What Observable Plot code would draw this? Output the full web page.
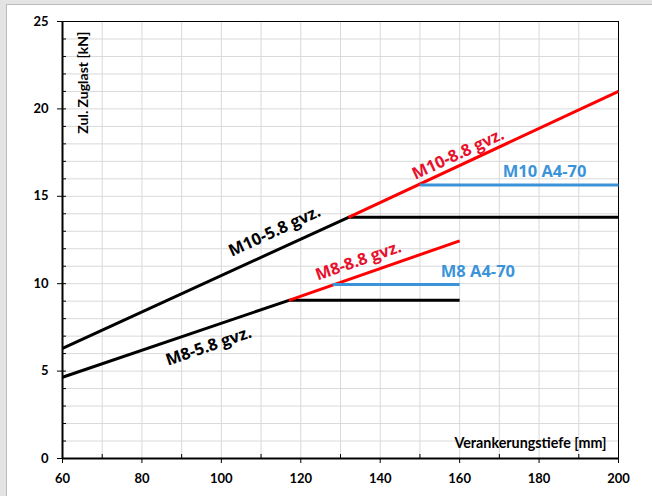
<!DOCTYPE html>
<html>
<head>
<meta charset="utf-8">
<script src="https://cdn.jsdelivr.net/npm/d3@7"></script>
<script src="https://cdn.jsdelivr.net/npm/@observablehq/plot@0.6"></script>
<style>
  html, body { margin: 0; padding: 0; background: #e4e4e4; width: 652px; height: 496px; overflow: hidden; }
  #frame { position: absolute; left: 6px; top: 4px; width: 646px; height: 492px; background: #fff;
           border-left: 1px solid #bcbcbc; border-top: 1px solid #bcbcbc; }
  #chart { position: absolute; left: 0; top: 0; }
</style>
</head>
<body>
<div id="frame"><div id="chart"></div></div>
<script>
// ---- data ----
const xTicksMajor = [60, 80, 100, 120, 140, 160, 180, 200];
const xTicksMinor = [70, 90, 110, 130, 150, 170, 190];
const yTicksMajor = [0, 5, 10, 15, 20, 25];
const yTicksMinor = d3.range(0, 26, 1);

const m10_58_x = [60, 132, 200];
const m10_58_y = [6.3, 13.8, 13.8];
const m8_58_x = [60, 117, 160];
const m8_58_y = [4.65, 9.05, 9.05];
const m10_88_x = [132, 200];
const m10_88_y = [13.8, 21.0];
const m8_88_x = [117, 160];
const m8_88_y = [9.05, 12.45];
const m10_a4_x = [150, 200];
const m10_a4_y = [15.65, 15.65];
const m8_a4_x = [128, 160];
const m8_a4_y = [9.95, 9.95];

const labelTexts = ["M10-5.8 gvz.", "M8-5.8 gvz.", "M10-8.8 gvz.", "M10 A4-70", "M8-8.8 gvz.", "M8 A4-70"];
const labelX = [113.4, 96.8, 159.6, 181.4, 134.5, 164.6];
const labelY = [13.0, 6.42, 17.41, 16.42, 11.3, 10.68];

// ---- styles ----
const BLACK = "#000000", RED = "#ff0000", BLUE = "#3b94d9";
const LABEL_RED = "#e8112d", LABEL_BLUE = "#3b94d9";
const labelRot = [-24.7, -18.7, -24.7, 0, -19, 0];
const labelFill = [BLACK, BLACK, LABEL_RED, LABEL_BLUE, LABEL_RED, LABEL_BLUE];

const pts = (xs, ys) => xs.map((x, i) => ({x, y: ys[i]}));
const series = [
  {d: pts(m10_58_x, m10_58_y), c: BLACK},
  {d: pts(m8_58_x, m8_58_y), c: BLACK},
  {d: pts(m10_88_x, m10_88_y), c: RED},
  {d: pts(m8_88_x, m8_88_y), c: RED},
  {d: pts(m10_a4_x, m10_a4_y), c: BLUE},
  {d: pts(m8_a4_x, m8_a4_y), c: BLUE}
];
const labels = labelTexts.map((t, i) => ({text: t, x: labelX[i], y: labelY[i], r: labelRot[i], f: labelFill[i]}));

const axisFont = "Lato, 'Open Sans', sans-serif";
const labelFont = "'Open Sans', 'Noto Sans', sans-serif";

const chart = Plot.plot({
  width: 646,
  height: 492,
  marginLeft: 55,
  marginTop: 16,
  marginRight: 35,
  marginBottom: 39,
  style: {fontFamily: axisFont, fontSize: "13px", color: "black", background: "white"},
  x: {domain: [60, 200]},
  y: {domain: [0, 25]},
  marks: [
    Plot.gridY(yTicksMinor, {stroke: "#d9d9d9", strokeOpacity: 1, strokeWidth: 1}),
    Plot.gridX(d3.range(60, 201, 10), {stroke: "#d9d9d9", strokeOpacity: 1, strokeWidth: 1}),
    Plot.frame({stroke: "black", strokeWidth: 1}),
    Plot.ruleX([60], {strokeWidth: 2}),
    Plot.ruleY([0], {strokeWidth: 2}),
    Plot.axisY(yTicksMajor, {anchor: "left", tickSize: 5, tickPadding: 9, fontWeight: "bold", fontSize: 13, label: null}),
    Plot.axisY(yTicksMinor, {anchor: "left", tickSize: 4, dx: 4, text: null, label: null}),
    Plot.axisX(xTicksMajor, {anchor: "bottom", tickSize: 5, tickPadding: 10, fontWeight: "bold", fontSize: 13, label: null}),
    Plot.axisX(xTicksMinor, {anchor: "bottom", tickSize: 4, dy: -4, text: null, label: null}),
    ...series.map(s => Plot.line(s.d, {x: "x", y: "y", stroke: s.c, strokeWidth: 3, strokeLinecap: "butt"})),
    Plot.text(labels, {x: "x", y: "y", text: "text", rotate: "r", fill: "f",
      fontSize: 16.5, fontWeight: "bold", fontFamily: labelFont}),
    Plot.text(["Zul. Zuglast [kN]"], {frameAnchor: "top-left", rotate: -90, textAnchor: "end", lineAnchor: "middle",
      dx: 21, dy: 10, fontWeight: "bold", fontSize: 14, fill: "black"}),
    Plot.text(["Verankerungstiefe [mm]"], {frameAnchor: "bottom-right", textAnchor: "end", lineAnchor: "middle",
      dx: -12, dy: -15, fontWeight: "bold", fontSize: 14.3, fill: "black"})
  ]
});
document.getElementById("chart").appendChild(chart);
</script>
</body>
</html>
